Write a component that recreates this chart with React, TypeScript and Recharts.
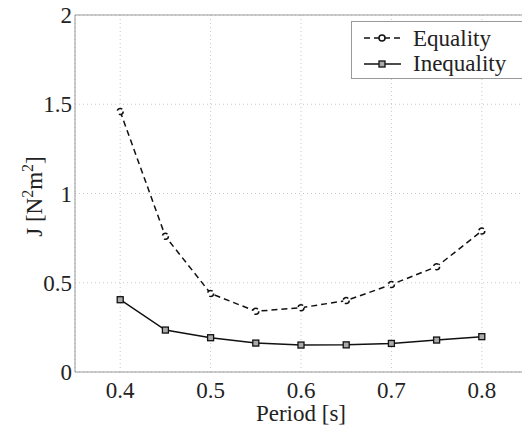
import { CartesianGrid, Line, LineChart, ReferenceLine, XAxis, YAxis } from "recharts";

const PERIODS = [0.4, 0.45, 0.5, 0.55, 0.6, 0.65, 0.7, 0.75, 0.8];
const EQUALITY = [1.46, 0.76, 0.44, 0.34, 0.36, 0.4, 0.49, 0.59, 0.79];
const INEQUALITY = [0.405, 0.235, 0.192, 0.162, 0.151, 0.152, 0.16, 0.179, 0.198];
const X_TICKS = [0.4, 0.5, 0.6, 0.7, 0.8];
const Y_TICKS = [0, 0.5, 1, 1.5, 2];

const FONT = "Liberation Serif, DejaVu Serif, serif";
const INK = "#111";
const TEXT = "#222";
const AXIS = "#999";
const GRID = "#c8c8c8";

const txt = { fontFamily: FONT, fontSize: 23 };

const data = PERIODS.map((p, i) => ({ period: p, eq: EQUALITY[i], ineq: INEQUALITY[i] }));

const Square = (props: any) => {
  const { cx, cy } = props;
  if (cx == null || cy == null) return null;
  return <rect x={cx - 3} y={cy - 3} width={6} height={6} fill="#aaa" stroke={INK} strokeWidth={1.3} />;
};

const circleDot = { r: 3, fill: "#fff", stroke: INK, strokeWidth: 1.5 };

const XTick = (props: any) => {
  const { x, y, payload } = props;
  return (
    <text x={x} y={y} dy={16} textAnchor="middle" style={txt} fill={TEXT}>
      {String(payload.value)}
    </text>
  );
};

const YTick = (props: any) => {
  const { x, y, payload } = props;
  return (
    <text x={x} y={y} dy={8} textAnchor="end" style={txt} fill={TEXT}>
      {String(payload.value)}
    </text>
  );
};

function LegendBox() {
  return (
    <div
      style={{
        position: "absolute",
        left: 351,
        top: 21,
        width: 210,
        height: 58,
        border: `1px solid ${AXIS}`,
        background: "#fff",
        boxSizing: "border-box",
      }}
    >
      <svg width={210} height={56} style={{ display: "block" }}>
        <line x1={12} x2={49} y1={16} y2={16} stroke={INK} strokeWidth={1.5} strokeDasharray="6 4" />
        <circle cx={30} cy={16} r={3} fill="#fff" stroke={INK} strokeWidth={1.5} />
        <text x={61} y={24} style={txt} fill={TEXT}>
          Equality
        </text>
        <line x1={12} x2={49} y1={42} y2={42} stroke={INK} strokeWidth={1.5} />
        <rect x={27} y={39} width={6} height={6} fill="#aaa" stroke={INK} strokeWidth={1.3} />
        <text x={61} y={49} style={txt} fill={TEXT}>
          Inequality
        </text>
      </svg>
    </div>
  );
}

const YLabel = (props: any) => {
  const vb = props.viewBox;
  const cy = vb.y + vb.height / 2 + 3;
  return (
    <text x={42} y={cy} transform={`rotate(-90 42 ${cy})`} textAnchor="middle" style={txt} fill={TEXT}>
      J [N<tspan fontSize={16} dy={-9}>2</tspan>
      <tspan dy={9}>m</tspan>
      <tspan fontSize={16} dy={-9}>2</tspan>
      <tspan dy={9}>]</tspan>
    </text>
  );
};

const XLabel = (props: any) => {
  const vb = props.viewBox;
  return (
    <text x={vb.x + vb.width / 2} y={421} textAnchor="middle" style={txt} fill={TEXT}>
      Period [s]
    </text>
  );
};

export default function App() {
  return (
    <div style={{ position: "fixed", left: 0, top: 0, width: 522, height: 425, overflow: "hidden", background: "#fff" }}>
      <LineChart width={540} height={425} data={data} margin={{ top: 15, right: 13, left: 0, bottom: 0 }}>
        <CartesianGrid stroke={GRID} strokeDasharray="1 3" />
        <XAxis
          dataKey="period"
          type="number"
          domain={[0.35, 0.85]}
          ticks={X_TICKS}
          allowDataOverflow
          height={53}
          stroke={AXIS}
          tickLine={false}
          tickSize={0}
          tickMargin={10}
          tick={<XTick />}
          label={<XLabel />}
        />
        <YAxis
          type="number"
          domain={[0, 2]}
          ticks={Y_TICKS}
          width={75}
          stroke={AXIS}
          tickLine={false}
          tickSize={0}
          tickMargin={3}
          tick={<YTick />}
          label={<YLabel />}
        />
        <ReferenceLine y={2} stroke={AXIS} />
        <Line
          type="linear"
          dataKey="eq"
          name="Equality"
          stroke={INK}
          strokeWidth={1.5}
          strokeDasharray="6 4"
          dot={circleDot}
          isAnimationActive={false}
        />
        <Line
          type="linear"
          dataKey="ineq"
          name="Inequality"
          stroke={INK}
          strokeWidth={1.5}
          dot={<Square />}
          isAnimationActive={false}
        />
      </LineChart>
      <LegendBox />
    </div>
  );
}
